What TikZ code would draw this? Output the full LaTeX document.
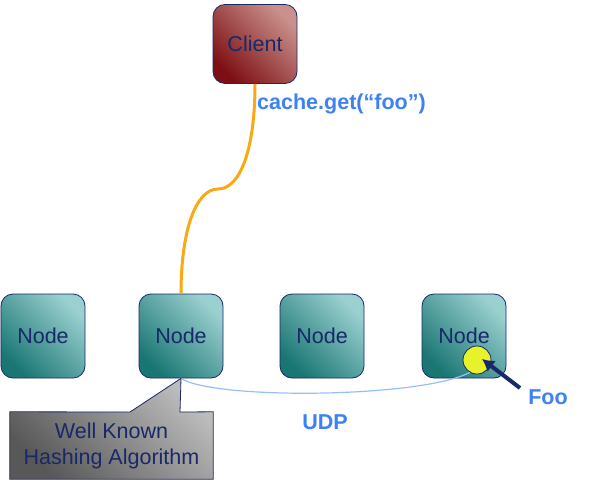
\documentclass[tikz,border=0pt]{standalone}
\usepackage{fontspec}
\setmainfont{Liberation Sans}
\usetikzlibrary{calc,arrows.meta}
\definecolor{navy}{RGB}{25,40,105}
\definecolor{labelblue}{RGB}{60,130,245}
\definecolor{udpblue}{RGB}{150,190,255}
\definecolor{wire}{RGB}{250,168,20}
\definecolor{tealdark}{RGB}{25,118,115}
\definecolor{teallight}{RGB}{155,208,208}
\definecolor{reddark}{RGB}{125,15,20}
\definecolor{redlight}{RGB}{202,145,140}
\definecolor{greylight}{RGB}{188,188,188}
\definecolor{greydark}{RGB}{88,88,88}
\definecolor{foofill}{RGB}{232,242,40}

\begin{document}
\begin{tikzpicture}[x=1bp,y=-1bp]
    \tikzstyle{box}=[rounded corners=12bp,draw=navy,thick,minimum width=84bp,minimum height=84bp,inner sep=0pt,
        font=\fontsize{21.6}{26}\selectfont,text=navy,shading angle=-45]
    \tikzstyle{cachenode}=[box,top color=teallight,bottom color=tealdark,shading angle=-45]
    \tikzstyle{clientnode}=[box,top color=redlight,bottom color=reddark,shading angle=-45,minimum height=79bp]
    \tikzstyle{bluetext}=[font=\fontsize{21.6}{26}\selectfont\bfseries,text=labelblue,inner sep=0pt]
    \useasboundingbox (0,0) rectangle (594,480);

    \node (client)[clientnode] at (255,44) {Client};
    \node (n1)[cachenode] at (43,336) {Node};
    \node (n2)[cachenode] at (181,336) {Node};
    \node (n3)[cachenode] at (322,336) {Node};
    \node (n4)[cachenode] at (464,336) {Node};

    \node (get)[bluetext,anchor=west] at (257,104) {cache.get(“foo”)};
    \node (foo)[circle,draw=navy,thick,fill=foofill,minimum size=28bp,inner sep=0pt] at (477,360) {};
    \node (udp)[bluetext] at (325,422) {UDP};
    \node (foolabel)[bluetext] at (548,397) {Foo};

    % request from the client
    \draw[wire,line width=3bp] (client.south) .. controls (255,150) and (240,189) .. (218,189)
        .. controls (196,189) and (181,230) .. (n2.north);

    % udp between the nodes
    \draw[udpblue,line width=1.2bp] (n2.south) .. controls (215,400) and (420,398) .. (foo.240);

    % hashing callout
    \node (hash)[minimum width=203bp,minimum height=67bp,inner sep=0pt] at (111.5,445.5) {};
    \shade[draw=navy,thick,top color=greylight,bottom color=greydark,shading angle=-45]
        (hash.north west) -- (130,412) -- (n2.south) -- (180,412) -- (hash.north east)
        -- (hash.south east) -- (hash.south west) -- cycle;
    \node[align=center,font=\fontsize{21.6}{26}\selectfont,text=navy] at (hash) {Well Known\\Hashing Algorithm};

    \coordinate (tail) at (520,388);
    \coordinate (tip) at (482,359);
    \draw[navy,line width=4bp,-{Latex[length=12bp,width=14bp]}] (tail) -- (tip);
\end{tikzpicture}
\end{document}
